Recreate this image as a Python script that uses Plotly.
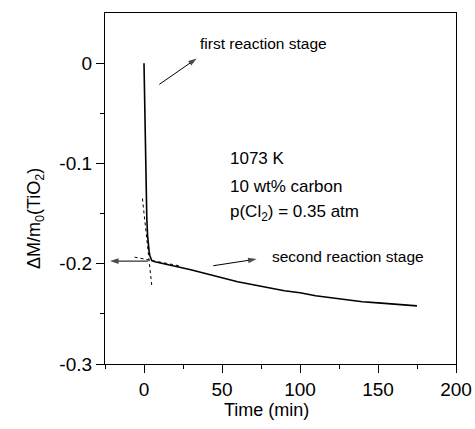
import plotly.graph_objects as go

# Main measured curve
time_min = [0, 0.3, 0.6, 0.9, 1.3, 1.8, 2.3, 2.8, 3.3, 3.8, 4.3, 5, 7, 10, 15, 20, 30, 40, 50, 60, 70,
            80, 90, 100, 110, 120, 130, 140, 150, 160, 170, 175]
dm = [0, -0.03, -0.07, -0.1, -0.13, -0.155, -0.172, -0.182, -0.188, -0.192, -0.195, -0.197, -0.198,
      -0.199, -0.2005, -0.202, -0.206, -0.210, -0.214, -0.218, -0.221,
      -0.224, -0.227, -0.229, -0.232, -0.234, -0.236, -0.238, -0.239, -0.240, -0.241, -0.242]

# Dotted tangent lines
tan1_x = [-1.0, 5.0]
tan1_y = [-0.135, -0.222]
tan2_x = [-6.0, 24.0]
tan2_y = [-0.1935, -0.2025]

# Arrows: (tail_x, tail_y, head_x, head_y)
arrows = [(9.8, -0.0212, 33.8, 0.0047),
          (44.4, -0.202, 72.2, -0.1954),
          (2.6, -0.1974, -21.8, -0.1974)]

font = "Liberation Sans, Arial, sans-serif"

fig = go.Figure()
fig.add_trace(go.Scatter(x=time_min, y=dm, mode="lines",
                         line=dict(color="black", width=1.6), showlegend=False))
fig.add_trace(go.Scatter(x=tan1_x, y=tan1_y, mode="lines",
                         line=dict(color="black", width=1, dash="dot"), showlegend=False))
fig.add_trace(go.Scatter(x=tan2_x, y=tan2_y, mode="lines",
                         line=dict(color="black", width=1, dash="dot"), showlegend=False))
for tx, ty, hx, hy in arrows:
    fig.add_trace(go.Scatter(x=[tx, hx], y=[ty, hy], mode="lines+markers",
                             line=dict(color="black", width=1),
                             marker=dict(symbol=["circle", "arrow"], size=[0, 9],
                                         angleref="previous", color="black",
                                         line=dict(width=0)),
                             showlegend=False, cliponaxis=False))

axis_common = dict(showline=True, linecolor="black", linewidth=1.2, mirror=True,
                   ticks="outside", ticklen=8, tickwidth=1.2, tickcolor="black",
                   showgrid=False, zeroline=False, automargin=False,
                   tickfont=dict(family=font, size=19, color="black"))

fig.update_xaxes(range=[-25, 200], tickmode="array", tickvals=[0, 50, 100, 150, 200],
                 minor=dict(ticks="outside", ticklen=4, tickwidth=1.2, tickcolor="black",
                            tickvals=[-25, 25, 75, 125, 175]),
                 **axis_common)
fig.update_yaxes(range=[-0.3, 0.05], tickmode="array", tickvals=[-0.3, -0.2, -0.1, 0],
                 ticktext=["-0.3", "-0.2", "-0.1", "0"],
                 minor=dict(ticks="outside", ticklen=4, tickwidth=1.2, tickcolor="black",
                            tickvals=[-0.25, -0.15, -0.05]),
                 **axis_common)

ann = []
texts = [("first reaction stage", 34.6, 0.0199, 15.5),
         ("second reaction stage", 80.8, -0.1924, 15.5),
         ("1073 K", 53.8, -0.0947, 17),
         ("10 wt% carbon", 53.8, -0.1226, 17),
         ("p(Cl<sub>2</sub>) = 0.35 atm", 53.8, -0.1496, 17)]
for t, x, y, s in texts:
    ann.append(dict(x=x, y=y, xref="x", yref="y", text=t, showarrow=False,
                    xanchor="left", yanchor="middle",
                    font=dict(family=font, size=s, color="black")))
# axis titles
ann.append(dict(x=(266.5 - 105) / 351, y=-(410 - 364) / 351, xref="paper", yref="paper",
                text="Time (min)", showarrow=False, xanchor="center", yanchor="middle",
                font=dict(family=font, size=18, color="black")))
ann.append(dict(x=(35 - 105) / 351, y=(364 - 219) / 351, xref="paper", yref="paper",
                text="ΔM/m<sub>0</sub>(TiO<sub>2</sub>)", textangle=-90, showarrow=False,
                xanchor="center", yanchor="middle",
                font=dict(family=font, size=18, color="black")))

fig.update_layout(width=475, height=429, autosize=False,
                  margin=dict(l=105, r=19, t=13, b=65, autoexpand=False),
                  plot_bgcolor="white", paper_bgcolor="white", annotations=ann)

fig.write_html("out.html")
